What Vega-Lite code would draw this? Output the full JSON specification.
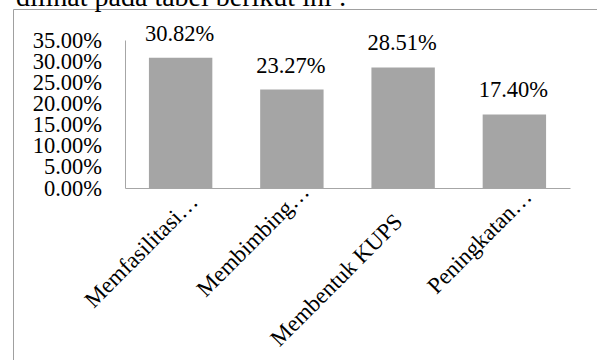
{
  "$schema": "https://vega.github.io/schema/vega-lite/v6.json",
  "autosize": "none",
  "padding": {"left": 13, "top": 9, "right": 0, "bottom": 0},
  "width": 585,
  "height": 352,
  "background": "white",
  "title": {
    "text": "dilihat pada tabel berikut ini :",
    "anchor": "start",
    "frame": "group",
    "font": "Liberation Serif",
    "fontSize": 28,
    "fontWeight": "normal",
    "color": "black",
    "baseline": "alphabetic",
    "offset": -25,
    "dx": 3
  },
  "data": {
    "values": [
      {"kategori": "Memfasilitasi…", "persen": 0.3082},
      {"kategori": "Membimbing…", "persen": 0.2327},
      {"kategori": "Membentuk KUPS", "persen": 0.2851},
      {"kategori": "Peningkatan…", "persen": 0.1740}
    ]
  },
  "encoding": {
    "x": {
      "field": "kategori",
      "type": "nominal",
      "sort": null,
      "scale": {"range": [112, 557], "paddingInner": 0.43, "paddingOuter": 0.215},
      "axis": {
        "title": null,
        "orient": "bottom",
        "offset": -173,
        "domainColor": "#a6a6a6",
        "domainWidth": 1,
        "ticks": false,
        "tickSize": 0,
        "labelAngle": -45,
        "labelAlign": "right",
        "labelBaseline": "top",
        "labelPadding": {"expr": "datum.value === 'Membentuk KUPS' ? 22 : datum.value === 'Membimbing…' ? -8 : datum.value === 'Peningkatan…' ? -3 : 2"},
        "labelOffset": {"expr": "datum.value === 'Membentuk KUPS' ? -12 : datum.value === 'Peningkatan…' ? 6 : 6"},
        "labelFont": "Liberation Serif",
        "labelFontSize": 23,
        "labelColor": "black",
        "labelLimit": 0,
        "labelOverlap": false,
        "labelBound": false,
        "grid": false
      }
    },
    "y": {
      "field": "persen",
      "type": "quantitative",
      "scale": {"domain": [0, 0.35], "range": [179, 31], "nice": false},
      "axis": {
        "title": null,
        "orient": "left",
        "offset": -112,
        "values": [0, 0.05, 0.1, 0.15, 0.2, 0.25, 0.3, 0.35],
        "format": ".2%",
        "domainColor": "#a6a6a6",
        "domainWidth": 1,
        "ticks": false,
        "tickSize": 0,
        "labelPadding": 23.5,
        "labelFont": "Liberation Serif",
        "labelFontSize": 22.5,
        "labelColor": "black",
        "labelOverlap": false,
        "labelBound": false,
        "labelFlush": false,
        "grid": false
      }
    }
  },
  "layer": [
    {"mark": {"type": "bar", "color": "#a5a5a5"}},
    {
      "mark": {
        "type": "text",
        "font": "Liberation Serif",
        "fontSize": 22.5,
        "color": "black",
        "baseline": "alphabetic",
        "dy": -17,
        "dx": -1
      },
      "encoding": {"text": {"field": "persen", "type": "quantitative", "format": ".2%"}}
    }
  ],
  "config": {
    "view": {"stroke": "#a0a0a0", "strokeWidth": 1}
  }
}
